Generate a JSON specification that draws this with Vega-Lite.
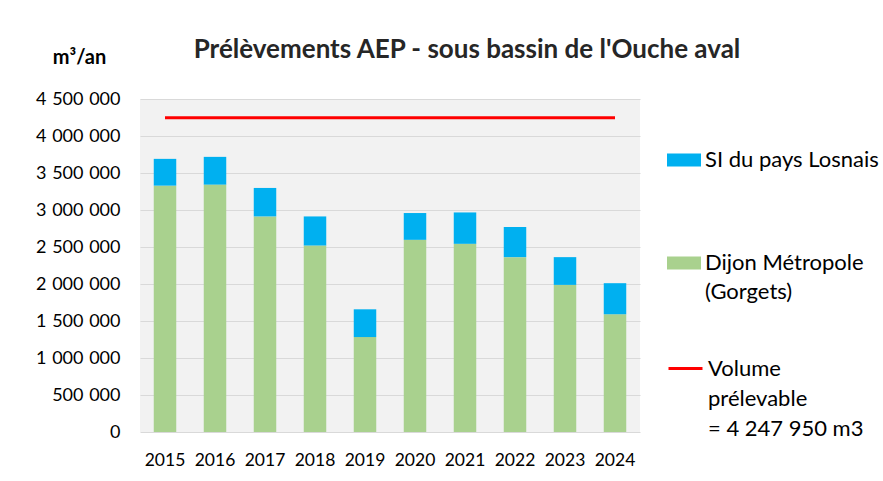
{
  "$schema": "https://vega.github.io/schema/vega-lite/v6.json",
  "autosize": {"type": "none"},
  "width": 500,
  "height": 333,
  "padding": {"left": 140, "top": 99, "right": 243, "bottom": 49},
  "background": "white",
  "title": {
    "text": "Prélèvements AEP - sous bassin de l'Ouche aval",
    "font": "Lato",
    "fontSize": 26,
    "fontWeight": "bold",
    "color": "#262626",
    "anchor": "middle",
    "frame": "group",
    "dx": 77,
    "offset": -16
  },
  "config": {
    "locale": {"number": {"decimal": ",", "thousands": "\u00a0\u200a", "grouping": [3], "currency": ["", " €"]}},
    "view": {"fill": "#F2F2F2", "stroke": null},
    "axis": {"labelFont": "Lato", "labelFontSize": 17.5, "labelColor": "#000000", "titleFont": "Lato"},
    "legend": {"labelFont": "Lato", "labelFontSize": 22, "labelColor": "#000000"}
  },
  "datasets": {
    "prelevements": [
      {"annee": "2015", "serie": "Dijon Métropole (Gorgets)", "volume": 3329000},
      {"annee": "2015", "serie": "SI du pays Losnais", "volume": 362000},
      {"annee": "2016", "serie": "Dijon Métropole (Gorgets)", "volume": 3343000},
      {"annee": "2016", "serie": "SI du pays Losnais", "volume": 375000},
      {"annee": "2017", "serie": "Dijon Métropole (Gorgets)", "volume": 2913000},
      {"annee": "2017", "serie": "SI du pays Losnais", "volume": 385000},
      {"annee": "2018", "serie": "Dijon Métropole (Gorgets)", "volume": 2520000},
      {"annee": "2018", "serie": "SI du pays Losnais", "volume": 393000},
      {"annee": "2019", "serie": "Dijon Métropole (Gorgets)", "volume": 1283000},
      {"annee": "2019", "serie": "SI du pays Losnais", "volume": 375000},
      {"annee": "2020", "serie": "Dijon Métropole (Gorgets)", "volume": 2597000},
      {"annee": "2020", "serie": "SI du pays Losnais", "volume": 362000},
      {"annee": "2021", "serie": "Dijon Métropole (Gorgets)", "volume": 2543000},
      {"annee": "2021", "serie": "SI du pays Losnais", "volume": 424000},
      {"annee": "2022", "serie": "Dijon Métropole (Gorgets)", "volume": 2363000},
      {"annee": "2022", "serie": "SI du pays Losnais", "volume": 407000},
      {"annee": "2023", "serie": "Dijon Métropole (Gorgets)", "volume": 1988000},
      {"annee": "2023", "serie": "SI du pays Losnais", "volume": 375000},
      {"annee": "2024", "serie": "Dijon Métropole (Gorgets)", "volume": 1591000},
      {"annee": "2024", "serie": "SI du pays Losnais", "volume": 420000}
    ],
    "volume": [
      {"annee": "2015", "serie": "Volume prélevable = 4 247 950 m3", "volume": 4247950},
      {"annee": "2016", "serie": "Volume prélevable = 4 247 950 m3", "volume": 4247950},
      {"annee": "2017", "serie": "Volume prélevable = 4 247 950 m3", "volume": 4247950},
      {"annee": "2018", "serie": "Volume prélevable = 4 247 950 m3", "volume": 4247950},
      {"annee": "2019", "serie": "Volume prélevable = 4 247 950 m3", "volume": 4247950},
      {"annee": "2020", "serie": "Volume prélevable = 4 247 950 m3", "volume": 4247950},
      {"annee": "2021", "serie": "Volume prélevable = 4 247 950 m3", "volume": 4247950},
      {"annee": "2022", "serie": "Volume prélevable = 4 247 950 m3", "volume": 4247950},
      {"annee": "2023", "serie": "Volume prélevable = 4 247 950 m3", "volume": 4247950},
      {"annee": "2024", "serie": "Volume prélevable = 4 247 950 m3", "volume": 4247950}
    ]
  },
  "encoding": {
    "x": {
      "field": "annee",
      "type": "ordinal",
      "scale": {"paddingInner": 0.55, "paddingOuter": 0.275},
      "axis": {"title": null, "labelAngle": 0, "domain": false, "ticks": false, "tickSize": 0, "labelPadding": 19, "grid": false}
    },
    "y": {
      "field": "volume",
      "type": "quantitative",
      "stack": "zero",
      "scale": {"domain": [0, 4500000], "nice": false},
      "axis": {
        "title": "m³/an",
        "titleAngle": 0,
        "titleX": -61,
        "titleY": -42,
        "titleAlign": "center",
        "titleBaseline": "middle",
        "titleFontSize": 20,
        "titleFontWeight": "bold",
        "titleColor": "#000000",
        "values": [0, 500000, 1000000, 1500000, 2000000, 2500000, 3000000, 3500000, 4000000, 4500000],
        "format": ",d",
        "labelFontSize": 18,
        "labelOverlap": false,
        "domain": false,
        "ticks": false,
        "tickSize": 0,
        "labelPadding": 20,
        "grid": true,
        "gridColor": "#D9D9D9",
        "gridWidth": 1
      }
    }
  },
  "layer": [
    {
      "data": {"name": "prelevements"},
      "mark": {"type": "bar"},
      "encoding": {
        "color": {
          "field": "serie",
          "type": "nominal",
          "scale": {"domain": ["SI du pays Losnais", "Dijon Métropole (Gorgets)"], "range": ["#00B0F0", "#A9D18E"]},
          "legend": {
            "title": null,
            "orient": "none",
            "legendX": 527,
            "legendY": 44,
            "symbolType": "M-1,-0.38H1V0.38H-1Z",
            "symbolSize": 1156,
            "symbolStrokeWidth": 0,
            "labelOffset": 4,
            "rowPadding": 75,
            "labelBaseline": "middle",
            "labelLimit": 300,
            "labelExpr": "datum.label == 'Dijon Métropole (Gorgets)' ? ['Dijon Métropole', '(Gorgets)'] : datum.label",
            "encode": {
              "labels": {
                "update": {
                  "lineHeight": {"value": 29}
                }
              }
            }
          }
        },
        "order": {"field": "serie", "sort": "ascending"}
      }
    },
    {
      "data": {"name": "volume"},
      "mark": {"type": "line", "strokeWidth": 3},
      "encoding": {
        "stroke": {
          "field": "serie",
          "type": "nominal",
          "scale": {"range": ["#FF0000"]},
          "legend": {
            "title": null,
            "orient": "none",
            "legendX": 527,
            "legendY": 251,
            "symbolType": "stroke",
            "symbolSize": 1156,
            "symbolStrokeWidth": 3,
            "labelOffset": 4,
            "labelBaseline": "middle",
            "labelLimit": 300,
            "labelExpr": "['Volume', 'prélevable', '= 4 247 950 m3']",
            "encode": {
              "labels": {
                "update": {
                  "lineHeight": {"value": 30}
                }
              }
            }
          }
        }
      }
    }
  ]
}
